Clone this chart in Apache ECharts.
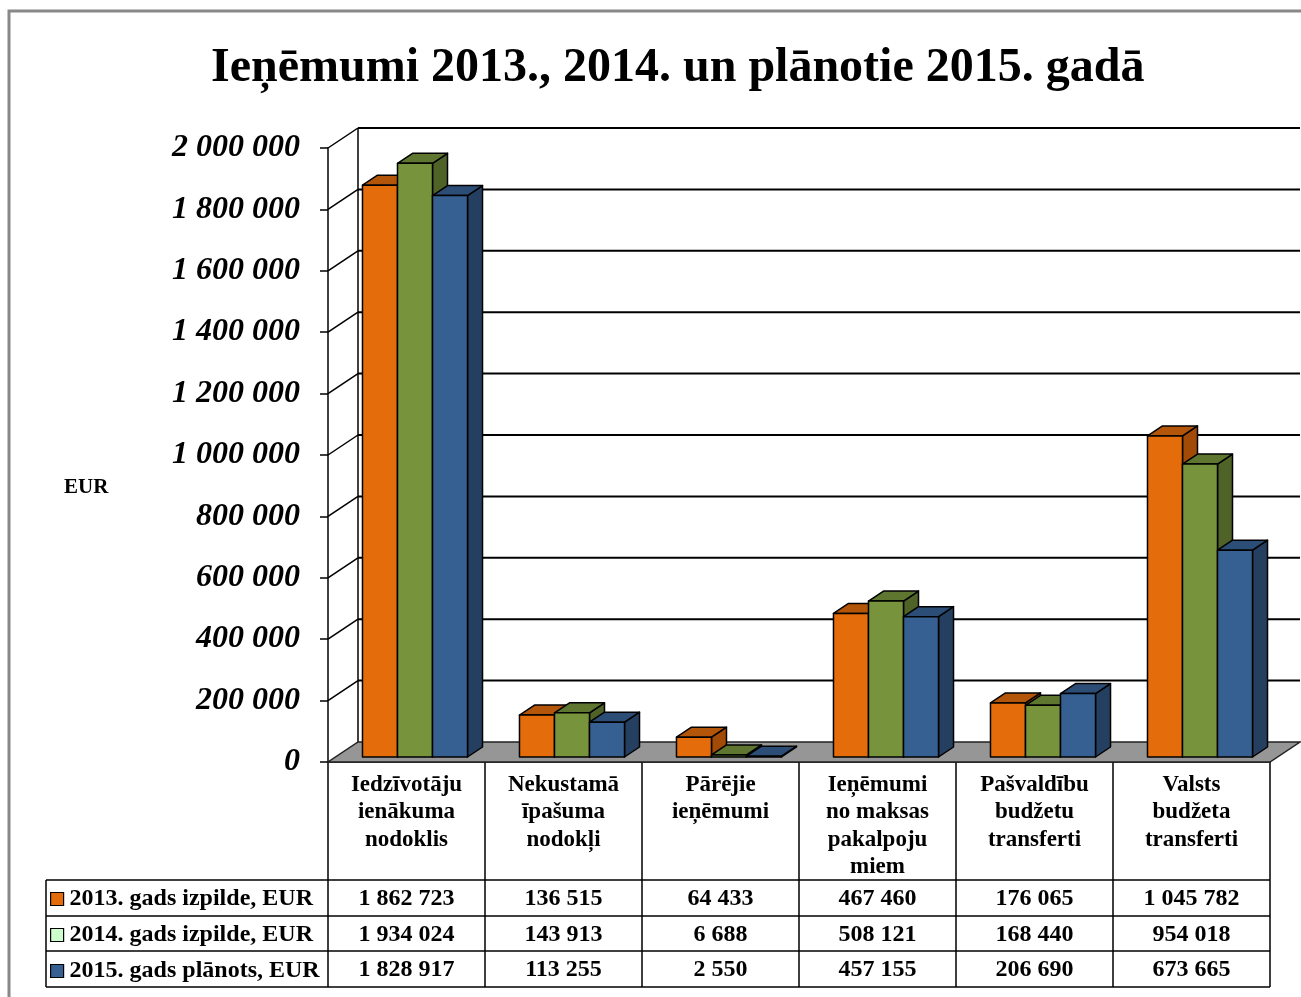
<!DOCTYPE html>
<html><head><meta charset="utf-8">
<script src="https://cdn.jsdelivr.net/npm/echarts@6/dist/echarts.min.js"></script>
<style>html,body{margin:0;padding:0;background:#fff}#c{width:1301px;height:997px}</style>
</head><body><div id="c"></div>
<script>
const categories = ['Iedzīvotāju\nienākuma\nnodoklis', 'Nekustamā\nīpašuma\nnodokļi', 'Pārējie\nieņēmumi', 'Ieņēmumi\nno maksas\npakalpoju\nmiem', 'Pašvaldību\nbudžetu\ntransferti', 'Valsts\nbudžeta\ntransferti'];
const seriesNames = ['2013. gads izpilde, EUR', '2014. gads izpilde, EUR', '2015. gads plānots, EUR'];
const values2013 = [1862723, 136515, 64433, 467460, 176065, 1045782];
const values2014 = [1934024, 143913, 6688, 508121, 168440, 954018];
const values2015 = [1828917, 113255, 2550, 457155, 206690, 673665];
const yTicks = [0, 200000, 400000, 600000, 800000, 1000000, 1200000, 1400000, 1600000, 1800000, 2000000];
const titleText = 'Ieņēmumi 2013., 2014. un plānotie 2015. gadā';
const unitLabel = 'EUR';

const allValues = [values2013, values2014, values2015];
const frontColors = ['#E46C0A', '#77933C', '#376092'];
const topColors = ['#B4560A', '#5E7630', '#2C4D75'];
const sideColors = ['#A24B07', '#4F6228', '#243F60'];
const legendColors = ['#E46C0A', '#CCFFCC', '#376092'];
const FONT = "'Liberation Serif', 'Times New Roman', serif";
const DX = 30, DY = 20, BAR_FRAC = 0.223;
const LEGEND_X = 46;

function fmt(n) { return String(n).replace(/\B(?=(\d{3})+(?!\d))/g, ' '); }
function line(x1, y1, x2, y2, w) {
  return { type: 'line', shape: { x1, y1, x2, y2 }, style: { stroke: '#000', lineWidth: w || 1.5 } };
}

function renderFrame(params, api) {
  const bw = api.size([1, 0])[0];
  const xl = api.coord([0, 0])[0] - bw / 2;
  const xr = api.coord([categories.length - 1, 0])[0] + bw / 2;
  const y0 = api.coord([0, 0])[1];
  const yTop = api.coord([0, yTicks[yTicks.length - 1]])[1];
  const children = [];
  yTicks.forEach(v => {
    if (v === 0) return;
    const y = api.coord([0, v])[1];
    children.push(line(xl + DX, y - DY, xr + DX, y - DY, 2));
    children.push(line(xl, y, xl + DX, y - DY, 1.5));
  });
  children.push(line(xl + DX, y0 - DY, xl + DX, yTop - DY, 1.5));
  children.push({ type: 'polygon', shape: { points: [[xl, y0], [xr, y0], [xr + DX, y0 - DY], [xl + DX, y0 - DY]] },
    style: { fill: '#969696', stroke: '#222', lineWidth: 1.5 } });
  return { type: 'group', children };
}

function makeBarRender(s) {
  return function (params, api) {
    const i = api.value(0), v = api.value(1);
    const p0 = api.coord([i, 0]), p1 = api.coord([i, v]);
    const bw = api.size([1, 0])[0];
    const w = bw * BAR_FRAC;
    const x = p0[0] - 1.5 * w + s * w + DX * 0.25 + 1;
    const yb = p0[1] - DY * 0.25, yt = p1[1] - DY * 0.25;
    const dx = DX * 0.5, dy = DY * 0.5;
    const st = { stroke: '#000', lineWidth: 1.5, lineJoin: 'round' };
    return { type: 'group', children: [
      { type: 'polygon', shape: { points: [[x + w, yt], [x + w + dx, yt - dy], [x + w + dx, yb - dy], [x + w, yb]] }, style: Object.assign({ fill: sideColors[s] }, st) },
      { type: 'polygon', shape: { points: [[x, yt], [x + w, yt], [x + w + dx, yt - dy], [x + dx, yt - dy]] }, style: Object.assign({ fill: topColors[s] }, st) },
      { type: 'rect', shape: { x: x, y: yt, width: w, height: yb - yt }, style: Object.assign({ fill: frontColors[s] }, st) }
    ] };
  };
}

function renderTable(params, api) {
  const i = params.dataIndex;
  const bw = api.size([1, 0])[0];
  const c = api.coord([i, 0]);
  const cx = c[0], y0 = c[1];
  const x1 = cx - bw / 2, x2 = cx + bw / 2;
  const rowLines = [118, 154, 189, 225];
  const rowCenters = [136.5, 172.5, 208];
  const children = [];
  rowLines.forEach(r => children.push(line(i === 0 ? LEGEND_X : x1, y0 + r, x2, y0 + r, 1.5)));
  if (i === 0) children.push(line(LEGEND_X, y0 + rowLines[0], LEGEND_X, y0 + rowLines[3], 1.5));
  allValues.forEach((arr, s) => {
    children.push({ type: 'text', style: { text: fmt(arr[i]), x: cx, y: y0 + rowCenters[s], align: 'center', verticalAlign: 'middle',
      fontSize: 24, fontWeight: 'bold', fontFamily: FONT, fill: '#000' } });
  });
  return { type: 'group', children };
}

const chart = echarts.init(document.getElementById('c'), null, { renderer: 'canvas' });
const series = [
  { type: 'custom', name: 'frame', silent: true, clip: false, z: 1, data: [[0, 0]], encode: { x: 0, y: 1 }, renderItem: renderFrame },
];
allValues.forEach((arr, s) => {
  series.push({ type: 'custom', name: seriesNames[s], clip: false, z: 2, itemStyle: { color: frontColors[s] },
    data: arr.map((v, i) => [i, v]), encode: { x: 0, y: 1 }, renderItem: makeBarRender(s) });
});
series.push({ type: 'custom', name: 'table', silent: true, clip: false, z: 3, data: categories.map((c, i) => [i, 0]), encode: { x: 0, y: 1 }, renderItem: renderTable });

chart.setOption({
  animation: false,
  backgroundColor: '#fff',
  title: { text: titleText, left: 206, top: 40, textStyle: { fontFamily: FONT, fontSize: 48, fontWeight: 'bold', color: '#000' } },
  grid: { left: 328, right: 31, top: 148, bottom: 235, containLabel: false },
  legend: {
    orient: 'vertical', left: 50, top: 881, padding: 0, itemGap: 0, itemWidth: 13, itemHeight: 13, selectedMode: false, icon: 'rect',
    data: seriesNames.map((n, s) => ({ name: n, itemStyle: { color: legendColors[s], borderColor: '#000', borderWidth: 1.2 } })),
    textStyle: { fontFamily: FONT, fontSize: 24, fontWeight: 'bold', color: '#000', lineHeight: 36, padding: [0, 0, 0, 1] }
  },
  xAxis: {
    type: 'category', data: categories,
    axisLine: { show: true, lineStyle: { color: '#000', width: 1.5 } },
    axisTick: { show: true, interval: 0, length: 225, alignWithLabel: false, lineStyle: { color: '#000', width: 1.5 } },
    axisLabel: { interval: 0, margin: 9, fontFamily: FONT, fontSize: 23, fontWeight: 'bold', color: '#000', lineHeight: 27.5 }
  },
  yAxis: {
    type: 'value', min: 0, max: 2000000, interval: 200000,
    axisLine: { show: true, lineStyle: { color: '#000', width: 1.5 } },
    axisTick: { show: true, length: 8, lineStyle: { color: '#000', width: 1.5 } },
    splitLine: { show: false },
    axisLabel: { margin: 28, padding: [5, 0, 0, 0], fontFamily: FONT, fontSize: 32, fontWeight: 'bold', fontStyle: 'italic', color: '#000', formatter: v => fmt(v) }
  },
  graphic: [
    { type: 'rect', silent: true, shape: { x: 9, y: 11, width: 1400, height: 1100 }, style: { fill: 'none', stroke: '#888', lineWidth: 3 } },
    { type: 'text', left: 64, top: 477, style: { text: unitLabel, fontFamily: FONT, fontSize: 21, fontWeight: 'bold', fill: '#000' } }
  ],
  series
});
</script></body></html>
